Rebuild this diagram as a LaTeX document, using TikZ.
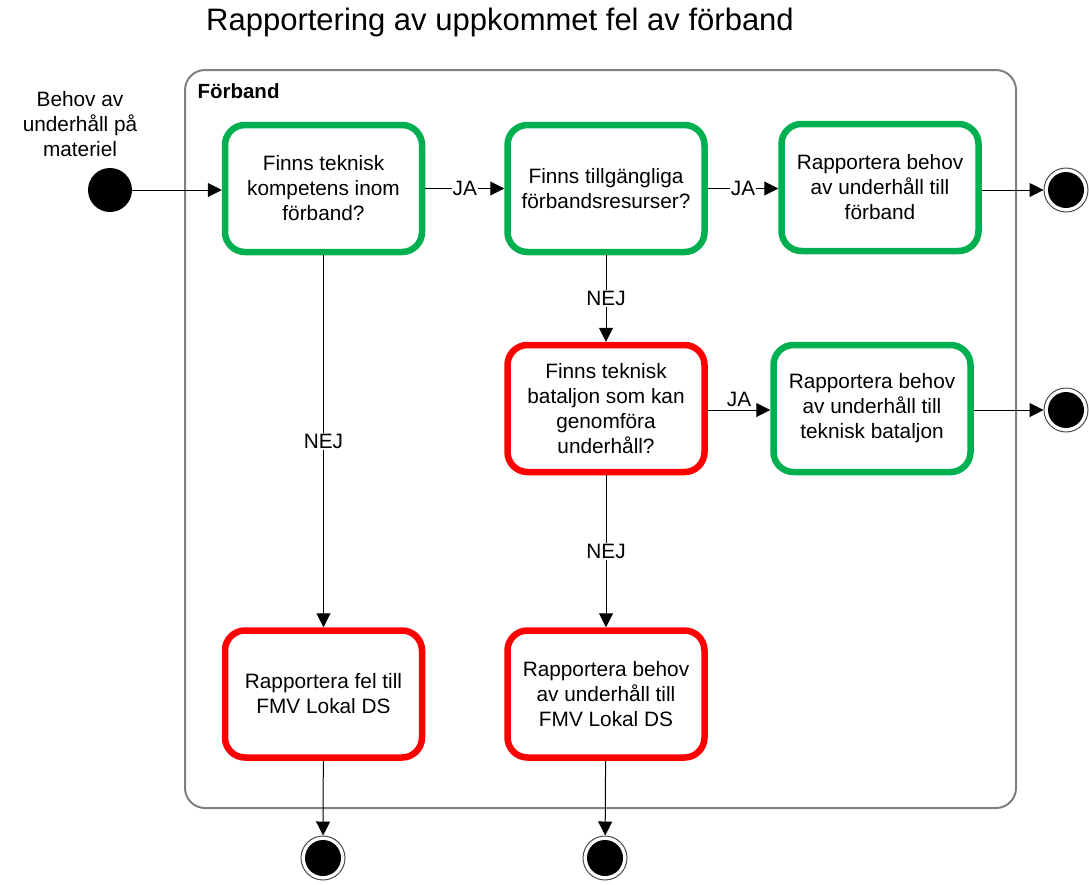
\documentclass[tikz,border=0pt]{standalone}
\usepackage{fontspec}
\setmainfont{Liberation Sans}
\usetikzlibrary{arrows.meta}
\definecolor{okgreen}{RGB}{0,176,80}
\definecolor{badred}{RGB}{255,0,0}
\begin{document}
\begin{tikzpicture}[x=1pt,y=-1pt,
  box/.style={draw, rounded corners=20pt, line width=6.5pt, minimum width=197pt, minimum height=127pt,
    align=center, font=\fontsize{20.8}{25}\selectfont, inner sep=2pt},
  gbox/.style={box, draw=okgreen},
  rbox/.style={box, draw=badred},
  startnode/.style={circle, fill=black, minimum size=44pt, inner sep=0pt},
  endnode/.style={circle, draw=black!70, line width=1pt, fill=white, minimum size=44pt, inner sep=0pt,
    path picture={\fill[black] (path picture bounding box.center) circle (18pt);}},
  flow/.style={-{Triangle[length=14pt,width=14pt]}, line width=1pt},
  lbl/.style={font=\fontsize{20.8}{24}\selectfont, fill=white, inner sep=1pt}
]
\useasboundingbox (0,0) rectangle (1089,884);
\node[font=\fontsize{31}{34}\selectfont] (title) at (500,22) {Rapportering av uppkommet fel av förband};
\draw[black!50, line width=2pt, rounded corners=20pt] (185,70) rectangle (1016,808);
\node[anchor=west, font=\bfseries\fontsize{20.5}{24}\selectfont] (swim) at (194,91) {Förband};

\node[align=center, font=\fontsize{20.8}{25}\selectfont] (startlbl) at (80,124) {Behov av\\underhåll på\\materiel};
\node[startnode] (start) at (110,190) {};

\node[gbox] (a) at (323.5,188.5) {Finns teknisk\\kompetens inom\\förband?};
\node[gbox] (b) at (606,188.5) {Finns tillgängliga\\förbandsresurser?};
\node[gbox] (c) at (880,187.5) {Rapportera behov\\av underhåll till\\förband};
\node[rbox] (d) at (606,408.5) {Finns teknisk\\bataljon som kan\\genomföra\\underhåll?};
\node[gbox] (e) at (872,408.5) {Rapportera behov\\av underhåll till\\teknisk bataljon};
\node[rbox] (f) at (323.5,694) {Rapportera fel till\\FMV Lokal DS};
\node[rbox] (g) at (606,694) {Rapportera behov\\av underhåll till\\FMV Lokal DS};

\node[endnode] (e1) at (1066,190) {};
\node[endnode] (e2) at (1066,410) {};
\node[endnode] (e3) at (323,858) {};
\node[endnode] (e4) at (605,858) {};

\draw[flow] (start) -- (a.west |- start);
\draw[flow] (a) -- node[lbl] {JA} (b);
\draw[flow] (b) -- node[lbl] {JA} (c.west |- b);
\draw[flow] (b) -- node[lbl] {NEJ} (d);
\draw[flow] (d.east |- e2) -- node[lbl, above=2pt, fill=none] {JA} (e.west |- e2);
\draw[flow] (d) -- node[lbl] {NEJ} (g);
\draw[flow] (a) -- node[lbl] {NEJ} (f);
\draw[flow] (c.east |- e1) -- (e1);
\draw[flow] (e.east |- e2) -- (e2);
\draw[flow] (f) -- (e3);
\draw[flow] (g) -- (e4);
\end{tikzpicture}
\end{document}
